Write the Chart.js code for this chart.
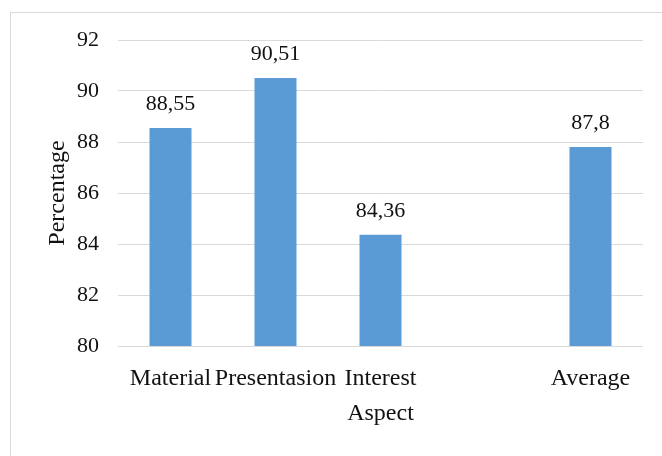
<!DOCTYPE html>
<html>
<head>
<meta charset="utf-8">
<script src="https://cdn.jsdelivr.net/npm/chart.js@4"></script>
<style>
  html, body { margin: 0; padding: 0; background: #fff; }
  #wrap { position: relative; width: 662px; height: 456px; overflow: hidden; }
  #frame { position: absolute; left: 10px; top: 12px; width: 700px; height: 500px; border: 1px solid #d9d9d9; box-sizing: border-box; }
  canvas { position: absolute; left: 0; top: 0; }
</style>
</head>
<body>
<div id="wrap">
  <div id="frame"></div>
  <canvas id="c" width="662" height="456"></canvas>
</div>
<script>
const categories = ["Material", "Presentasion", "Interest", "", "Average"];
const values = [88.55, 90.51, 84.36, null, 87.8];
const yTicks = [80, 82, 84, 86, 88, 90, 92];

const FONT = "'Liberation Serif', 'Times New Roman', serif";

const valueLabels = {
  id: 'valueLabels',
  afterDatasetsDraw(chart) {
    const ctx = chart.ctx;
    const meta = chart.getDatasetMeta(0);
    ctx.save();
    ctx.font = "22px " + FONT;
    ctx.fillStyle = "#111";
    ctx.textAlign = "center";
    ctx.textBaseline = "alphabetic";
    meta.data.forEach((bar, i) => {
      const v = values[i];
      if (v === null || v === undefined) return;
      ctx.fillText(String(v).replace('.', ','), bar.x, bar.y - 18);
    });
    ctx.restore();
  }
};

new Chart(document.getElementById('c'), {
  type: 'bar',
  data: {
    labels: categories,
    datasets: [{
      data: values,
      backgroundColor: '#5B9BD5',
      borderWidth: 0,
      barPercentage: 0.4,
      categoryPercentage: 1.0
    }]
  },
  options: {
    responsive: false,
    animation: false,
    devicePixelRatio: 1,
    layout: { padding: { left: 0, right: 19, top: 40, bottom: 0 } },
    plugins: { legend: { display: false }, tooltip: { enabled: false } },
    scales: {
      x: {
        afterFit(scale) { scale.height = 110; },
        grid: { display: false, drawTicks: false },
        border: { display: false },
        ticks: {
          autoSkip: false, maxRotation: 0, minRotation: 0,
          padding: 18,
          color: '#111',
          font: { family: FONT, size: 24 }
        },
        title: {
          display: true, text: 'Aspect', color: '#111',
          font: { family: FONT, size: 24 },
          padding: { top: 8, bottom: 28 }
        }
      },
      y: {
        min: 80, max: 92,
        afterFit(scale) { scale.width = 118; },
        afterBuildTicks(scale) { scale.ticks = yTicks.map(v => ({ value: v })); },
        grid: { color: '#d9d9d9', lineWidth: 1, drawTicks: false },
        border: { display: false },
        ticks: {
          stepSize: 2, padding: 19, color: '#111',
          font: { family: FONT, size: 22 }
        },
        title: {
          display: true, text: 'Percentage', color: '#111',
          font: { family: FONT, size: 24 },
          padding: { top: 43, bottom: 0 }
        }
      }
    }
  },
  plugins: [valueLabels]
});
</script>
</body>
</html>
